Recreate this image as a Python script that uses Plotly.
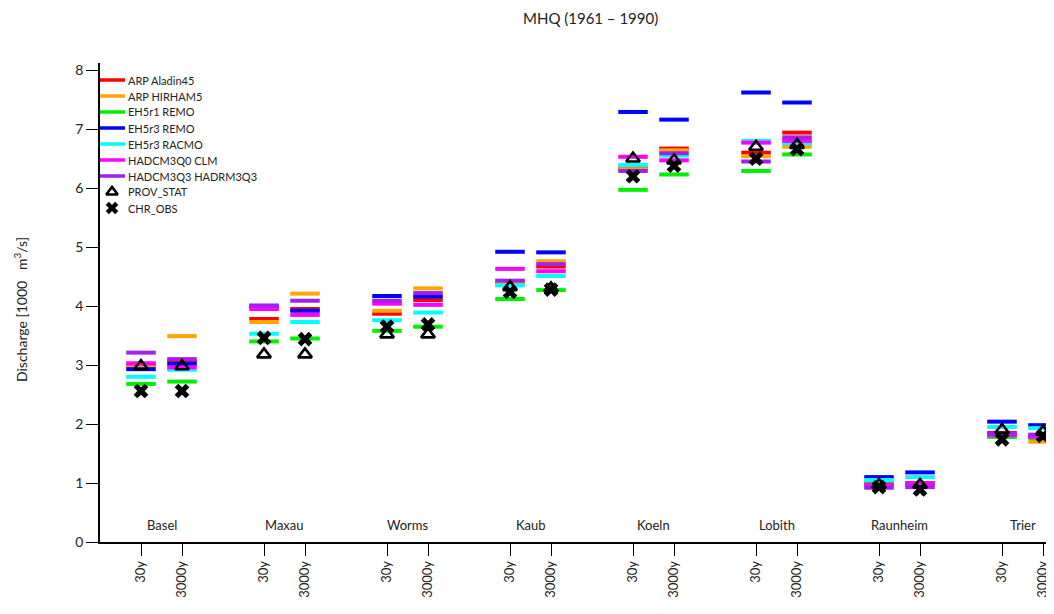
import plotly.graph_objects as go

stations = ["Basel", "Maxau", "Worms", "Kaub", "Koeln", "Lobith", "Raunheim", "Trier"]
periods = ["30y", "3000y"]

# values ordered station by station: [30y, 3000y] for each station
arp_aladin45 = [2.99, 3.06, 3.78, 3.95, 3.87, 4.10, 4.38, 4.67, 6.35, 6.67, 6.60, 6.94, 0.98, 1.00, 1.85, 1.80]
arp_hirham5 = [2.96, 3.49, 3.73, 4.21, 3.92, 4.30, 4.40, 4.76, 6.32, 6.64, 6.54, 6.70, 0.96, 0.98, 1.82, 1.70]
eh5r1_remo = [2.68, 2.72, 3.40, 3.45, 3.58, 3.65, 4.12, 4.27, 5.97, 6.23, 6.29, 6.57, 1.00, 0.97, 1.78, 1.76]
eh5r3_remo = [2.93, 3.02, 3.99, 3.92, 4.17, 4.16, 4.92, 4.91, 7.29, 7.16, 7.62, 7.45, 1.10, 1.18, 2.04, 1.98]
eh5r3_racmo = [2.80, 2.92, 3.53, 3.73, 3.76, 3.89, 4.35, 4.51, 6.39, 6.55, 6.80, 6.76, 1.05, 1.10, 1.95, 1.93]
hadcm3q0_clm = [3.03, 2.96, 3.95, 3.85, 4.04, 4.02, 4.63, 4.59, 6.53, 6.47, 6.77, 6.80, 0.97, 1.00, 1.81, 1.78]
hadcm3q3_hadrm3q3 = [3.21, 3.10, 4.01, 4.09, 4.09, 4.22, 4.43, 4.71, 6.29, 6.59, 6.45, 6.86, 0.92, 0.93, 1.84, 1.82]
prov_stat = [2.98, 2.98, 3.18, 3.18, 3.52, 3.52, 4.32, 4.30, 6.50, 6.47, 6.70, 6.73, 0.97, 0.97, 1.90, 1.87]
chr_obs = [2.56, 2.56, 3.46, 3.44, 3.65, 3.69, 4.24, 4.28, 6.20, 6.38, 6.50, 6.66, 0.93, 0.89, 1.74, 1.80]

model_names = ["ARP Aladin45", "ARP HIRHAM5", "EH5r1 REMO", "EH5r3 REMO",
               "EH5r3 RACMO", "HADCM3Q0 CLM", "HADCM3Q3 HADRM3Q3"]
model_values = [arp_aladin45, arp_hirham5, eh5r1_remo, eh5r3_remo,
                eh5r3_racmo, hadcm3q0_clm, hadcm3q3_hadrm3q3]
model_colors = ["#ff0000", "#ffa500", "#00ee00", "#0000ff", "#00ffff", "#ff00ff", "#a020f0"]

# x positions: each station gets a slot of 3 units, two periods side by side
xpos = []
xlab = []
for i, s in enumerate(stations):
    for j, p in enumerate(periods):
        xpos.append(3 * i + 1 + j)
        xlab.append(p)

# page body has an 8px margin -> work in window pixels, compensate here
OFF = 8
W, H = 1054, 614
PLOT_L, PLOT_T, PLOT_B = 100, 63, 542          # window pixels
ML, MT, MB, MR = PLOT_L - OFF, PLOT_T - OFF, H - (PLOT_B - OFF), 0
PW, PH = W - ML - MR, H - MT - MB
XMAX = PW / 41.0


def px_x(px):
    return (px - PLOT_L) / PW


def px_y(py):
    return (PLOT_B - py) / PH


half = 0.36
FONT = "Lato"
TXT = "#222"

fig = go.Figure()
for name, vals, col in zip(model_names, model_values, model_colors):
    xs, ys = [], []
    for x, v in zip(xpos, vals):
        xs += [x - half, x + half, None]
        ys += [v, v, None]
    fig.add_trace(go.Scatter(x=xs, y=ys, mode="lines", name=name, showlegend=False,
                             line=dict(color=col, width=4)))

tri_marker = dict(symbol="triangle-up-open", size=12, color="black",
                  line=dict(width=2.6, color="black"))
x_marker = dict(symbol="x", size=13, color="black", line=dict(width=0))

fig.add_trace(go.Scatter(x=xpos, y=prov_stat, mode="markers", name="PROV_STAT",
                         showlegend=False, marker=tri_marker))
fig.add_trace(go.Scatter(x=xpos, y=chr_obs, mode="markers", name="CHR_OBS",
                         showlegend=False, marker=x_marker))

# ---- legend (drawn manually to reproduce the compact R-style key) ----
leg_x0, leg_x1, leg_y0, leg_dy = 100, 125, 80, 16
for k, (name, col) in enumerate(zip(model_names, model_colors)):
    yy = px_y(leg_y0 + k * leg_dy)
    fig.add_shape(type="line", xref="paper", yref="paper",
                  x0=px_x(leg_x0), x1=px_x(leg_x1), y0=yy, y1=yy,
                  line=dict(color=col, width=3.5))
    fig.add_annotation(xref="paper", yref="paper", x=px_x(leg_x1 + 1), y=yy,
                       xanchor="left", yanchor="middle", text=name, showarrow=False,
                       font=dict(size=11, family=FONT, color=TXT))
sym_names = ["PROV_STAT", "CHR_OBS"]
sym_markers = [dict(tri_marker, size=10), dict(x_marker, size=11)]
for k, (name, mk) in enumerate(zip(sym_names, sym_markers)):
    yy = px_y(leg_y0 + (7 + k) * leg_dy)
    fig.add_trace(go.Scatter(x=[px_x(112)], y=[yy], mode="markers", marker=mk,
                             xaxis="x2", yaxis="y2", showlegend=False, hoverinfo="skip"))
    fig.add_annotation(xref="paper", yref="paper", x=px_x(leg_x1 + 1), y=yy,
                       xanchor="left", yanchor="middle", text=name, showarrow=False,
                       font=dict(size=11, family=FONT, color=TXT))

for i, s in enumerate(stations):
    fig.add_annotation(x=3 * i + 1.5, y=0.29, text=s, showarrow=False,
                       xanchor="center", yanchor="middle",
                       font=dict(size=13, color=TXT, family=FONT),
                       xref="x", yref="y")

fig.add_annotation(x=px_x(590), y=px_y(18), xref="paper", yref="paper",
                   xanchor="center", yanchor="middle",
                   text="MHQ (1961 \u2013 1990)", showarrow=False,
                   font=dict(size=15, color=TXT, family=FONT))

fig.add_annotation(x=px_x(20), y=px_y(310), xref="paper", yref="paper",
                   xanchor="center", yanchor="middle",
                   text="Discharge [1000   m<sup>3</sup>/s]", textangle=-90,
                   showarrow=False, font=dict(size=14, color=TXT, family=FONT))

fig.update_layout(
    width=W, height=H,
    margin=dict(l=ML, r=MR, t=MT, b=MB),
    paper_bgcolor="white", plot_bgcolor="white",
    font=dict(family=FONT, color=TXT),
    showlegend=False,
    xaxis=dict(range=[0, XMAX], tickmode="array", tickvals=xpos, ticktext=xlab,
               tickangle=-90, ticks="outside", ticklen=12, tickwidth=1.2,
               tickcolor="black", showgrid=False, zeroline=False,
               showline=True, linecolor="black", linewidth=1.5, automargin=False,
               tickfont=dict(size=13, family=FONT)),
    yaxis=dict(range=[0, 8.12], tickmode="array", tickvals=list(range(0, 9)),
               ticks="outside", ticklen=12, tickwidth=1.2, tickcolor="black",
               showgrid=False, zeroline=False, showline=True, automargin=False,
               linecolor="black", linewidth=1.5,
               tickfont=dict(size=14, family=FONT)),
    xaxis2=dict(overlaying="x", range=[0, 1], visible=False),
    yaxis2=dict(overlaying="y", range=[0, 1], visible=False),
)

fig.write_html("out.html")
